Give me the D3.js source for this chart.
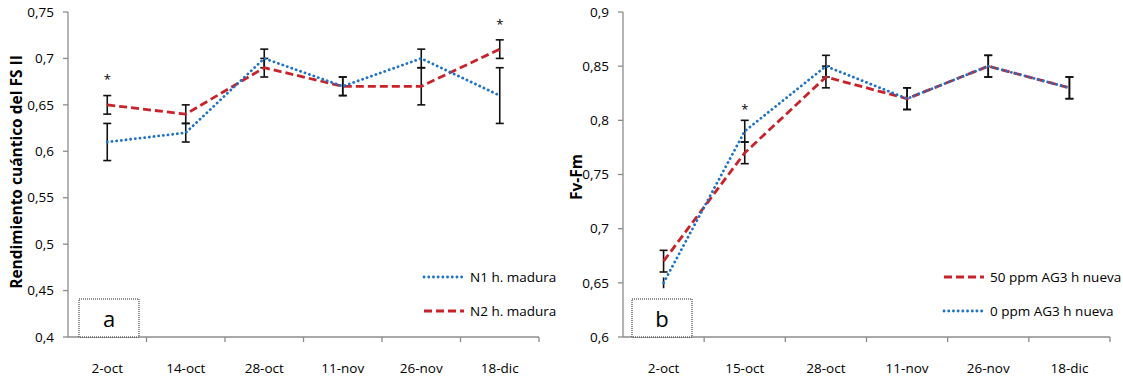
<!DOCTYPE html>
<html><head><meta charset="utf-8">
<script src="https://cdn.jsdelivr.net/npm/d3@7"></script>
<style>
body{margin:0;background:#fff;}
text{font-family:"Open Sans",sans-serif;fill:#000;}
</style></head>
<body><svg id="c" width="1123" height="381"></svg>
<script>
// ---- Panel a data ----
const catsA = ["2-oct","14-oct","28-oct","11-nov","26-nov","18-dic"];
const n1 = [0.61,0.62,0.70,0.67,0.70,0.66];
const n1Err = [0.02,0.01,0.01,0.01,0.01,0.03];
const n2 = [0.65,0.64,0.69,0.67,0.67,0.71];
const n2Err = [0.01,0.01,0.01,0.01,0.02,0.01];
const starsA = [[0,0.677],[5,0.737]];
const ticksA = [0.4,0.45,0.5,0.55,0.6,0.65,0.7,0.75];
// ---- Panel b data ----
const catsB = ["2-oct","15-oct","28-oct","11-nov","26-nov","18-dic"];
const p50 = [0.67,0.77,0.84,0.82,0.85,0.83];
const p50Err = [0.01,0.01,0.01,0.01,0.01,0.01];
const p0 = [0.65,0.79,0.85,0.82,0.85,0.83];
const p0Err = [0.005,0.01,0.01,0.01,0.01,0.01];
const starsB = [[1,0.81]];
const ticksB = [0.6,0.65,0.7,0.75,0.8,0.85,0.9];

const BLUE="#1f72c4", RED="#c8232b";
const svg=d3.select("#c");
const fmt=d=>String(+d.toFixed(2)).replace(".",",");

function panel(o){
  const g=svg.append("g");
  const x=d3.scaleBand().domain(o.cats).range([o.x0,o.x1]);
  const y=d3.scaleLinear().domain(o.dom).range([337,12]);
  // y axis
  g.append("line").attr("x1",o.x0).attr("x2",o.x0).attr("y1",12).attr("y2",337).attr("stroke","#8c8c8c").attr("stroke-width",1.3);
  o.ticks.forEach(t=>{
    g.append("line").attr("x1",o.x0-5).attr("x2",o.x0).attr("y1",y(t)).attr("y2",y(t)).attr("stroke","#8c8c8c").attr("stroke-width",1.3);
    g.append("text").attr("x",o.x0-14).attr("y",y(t)).attr("dy","0.35em").attr("text-anchor","end").attr("font-size",13.5).text(fmt(t));
  });
  // x axis
  g.append("line").attr("x1",o.x0).attr("x2",o.x1).attr("y1",337).attr("y2",337).attr("stroke","#8c8c8c").attr("stroke-width",1.3);
  o.cats.forEach((c,i)=>{
    const xe=x(c)+x.bandwidth();
    g.append("line").attr("x1",xe).attr("x2",xe).attr("y1",337).attr("y2",342).attr("stroke","#8c8c8c").attr("stroke-width",1.3);
    g.append("text").attr("x",x(c)+x.bandwidth()/2).attr("y",368).attr("dy","0.35em").attr("text-anchor","middle").attr("font-size",13.5).text(c);
  });
  // y label
  g.append("text").attr("transform",`translate(${o.lx},${o.ly}) rotate(-90)`).attr("text-anchor","middle").attr("dy","0.35em")
    .attr("font-weight","bold").attr("font-size",15.5).text(o.label);
  const cx=i=>x(o.cats[i])+x.bandwidth()/2;
  // error bars (caps drawn only for full-size bars)
  o.series.forEach(s=>{
    s.v.forEach((v,i)=>{
      const e=s.e[i];
      g.append("line").attr("x1",cx(i)).attr("x2",cx(i)).attr("y1",y(v-e)).attr("y2",y(v+e)).attr("stroke","#111").attr("stroke-width",1.6);
      if(e>=0.01)[v-e,v+e].forEach(w=>g.append("line").attr("x1",cx(i)-4).attr("x2",cx(i)+4).attr("y1",y(w)).attr("y2",y(w)).attr("stroke","#111").attr("stroke-width",1.6));
    });
  });
  // lines
  const line=d3.line().x((d,i)=>cx(i)).y(d=>y(d));
  o.series.forEach(s=>{
    g.append("path").datum(s.v).attr("d",line).attr("fill","none").attr("stroke",s.color).attr("stroke-width",2.8)
      .attr("stroke-dasharray",s.dash).attr("stroke-linecap",s.cap);
  });
  o.stars.forEach(([i,v])=>g.append("text").attr("x",cx(i)).attr("y",y(v)).attr("dy","0.35em").attr("text-anchor","middle").attr("font-size",13).text("*"));
  // box
  g.append("rect").attr("x",o.bx).attr("y",299).attr("width",60).attr("height",38).attr("fill","#fff").attr("stroke","#222").attr("stroke-width",1).attr("stroke-dasharray","1,1");
  g.append("text").attr("x",o.bx+30).attr("y",319).attr("dy","0.35em").attr("text-anchor","middle").attr("font-size",22).attr("font-family","Liberation Sans, Arial, sans-serif").text(o.letter);
  // legend
  o.legend.forEach((s,k)=>{
    const ly=277+k*34;
    g.append("line").attr("x1",o.legx).attr("x2",o.legx+40).attr("y1",ly).attr("y2",ly).attr("stroke",s.color).attr("stroke-width",2.8).attr("stroke-dasharray",s.dash).attr("stroke-linecap",s.cap);
    g.append("text").attr("x",o.legx+46).attr("y",ly).attr("dy","0.35em").attr("font-size",13.5).text(s.name);
  });
}
const blueS=(v,e,name)=>({v,e,color:BLUE,dash:"0.1,4.6",cap:"round",name});
const redS=(v,e,name)=>({v,e,color:RED,dash:"8,4",cap:"butt",name});

const aN2=redS(n2,n2Err,"N2 h. madura"), aN1=blueS(n1,n1Err,"N1 h. madura");
panel({cats:catsA,x0:68,x1:539,dom:[0.4,0.75],ticks:ticksA,label:"Rendimiento cuántico del FS II",lx:17,ly:172,
  series:[aN2,aN1],stars:starsA,bx:79,letter:"a",legx:424,legend:[aN1,aN2]});
const b50=redS(p50,p50Err,"50 ppm AG3 h nueva"), b0=blueS(p0,p0Err,"0 ppm AG3 h nueva");
panel({cats:catsB,x0:623,x1:1110,dom:[0.6,0.9],ticks:ticksB,label:"Fv-Fm",lx:577,ly:177,
  series:[b50,b0],stars:starsB,bx:632,letter:"b",legx:944,legend:[b50,b0]});
</script></body></html>
